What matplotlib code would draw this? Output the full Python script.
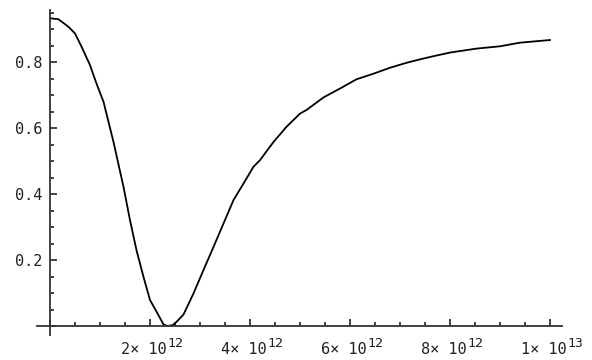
import numpy as np
import matplotlib
matplotlib.use("Agg")
import matplotlib.pyplot as plt
from matplotlib.ticker import MultipleLocator, NullFormatter, FuncFormatter
from matplotlib.transforms import blended_transform_factory

plt.rcParams['font.family'] = 'DejaVu Sans Mono'

# x in units of 10^12
x_vals = [0, 0.17, 0.37, 0.5, 0.63, 0.8, 0.93, 1.07, 1.17, 1.27, 1.37, 1.47,
          1.6, 1.73, 1.87, 2.0, 2.17, 2.27, 2.35, 2.45, 2.5, 2.67, 2.87, 3.07,
          3.27, 3.47, 3.67, 3.87, 4.07, 4.2, 4.47, 4.73, 5.0, 5.13, 5.47, 5.8,
          6.13, 6.47, 6.8, 7.13, 7.47, 7.67, 8.0, 8.53, 9.0, 9.4, 10.0]
y_vals = [0.933, 0.930, 0.907, 0.887, 0.847, 0.791, 0.735, 0.680, 0.619, 0.558,
          0.49, 0.422, 0.321, 0.230, 0.149, 0.079, 0.033, 0.005, 0.0, 0.003,
          0.008, 0.035, 0.099, 0.170, 0.240, 0.311, 0.382, 0.432, 0.483, 0.503,
          0.558, 0.604, 0.644, 0.655, 0.693, 0.720, 0.748, 0.765, 0.783, 0.798,
          0.811, 0.818, 0.829, 0.841, 0.848, 0.859, 0.867]

# x tick labels: (position, mantissa, exponent)
x_labels = [(2, '2', '12'), (4, '4', '12'), (6, '6', '12'), (8, '8', '12'),
            (10, '1', '13')]

W, H = 592, 360
fig = plt.figure(figsize=(W / 100, H / 100), dpi=100)
ax = fig.add_axes([37 / W, 25 / H, 525 / W, 325 / H])

ax.plot(x_vals, y_vals, color='black', lw=1.3)

ax.set_xlim(-0.26, 10.24)
ax.set_ylim(-0.027, 0.958)

for s in ['top', 'right']:
    ax.spines[s].set_visible(False)
ax.spines['left'].set_position(('data', 0))
ax.spines['bottom'].set_position(('data', 0))
for s in ['left', 'bottom']:
    ax.spines[s].set_color('#333333')
    ax.spines[s].set_linewidth(1.3)

ax.xaxis.set_major_locator(MultipleLocator(2))
ax.xaxis.set_minor_locator(MultipleLocator(0.5))
ax.yaxis.set_major_locator(MultipleLocator(0.2))
ax.yaxis.set_minor_locator(MultipleLocator(0.05))
ax.xaxis.set_major_formatter(NullFormatter())


def yfmt(v, pos):
    if abs(v) < 1e-9:
        return ''
    return '%.1f' % v


ax.yaxis.set_major_formatter(FuncFormatter(yfmt))

ax.tick_params(which='both', direction='in', color='#222222', width=1.2,
               labelsize=11, labelcolor='#222222')
ax.tick_params(which='major', length=5)
ax.tick_params(which='minor', length=3)
ax.tick_params(axis='y', pad=5.8)

# x labels in the "n× 10^k" style with a large superscript
tr = blended_transform_factory(ax.transData, fig.transFigure)
px = 50.0  # pixels per data unit along x
for pos, mant, expo in x_labels:
    ax.text(pos + 17 / px, 6 / H, mant + '× 10', transform=tr, ha='right',
            va='baseline', fontsize=11, color='#222222', clip_on=False)
    ax.text(pos + 17.5 / px, 13 / H, expo, transform=tr, ha='left',
            va='baseline', fontsize=9.5, color='#222222', clip_on=False)

fig.savefig('out.png', dpi=100)
